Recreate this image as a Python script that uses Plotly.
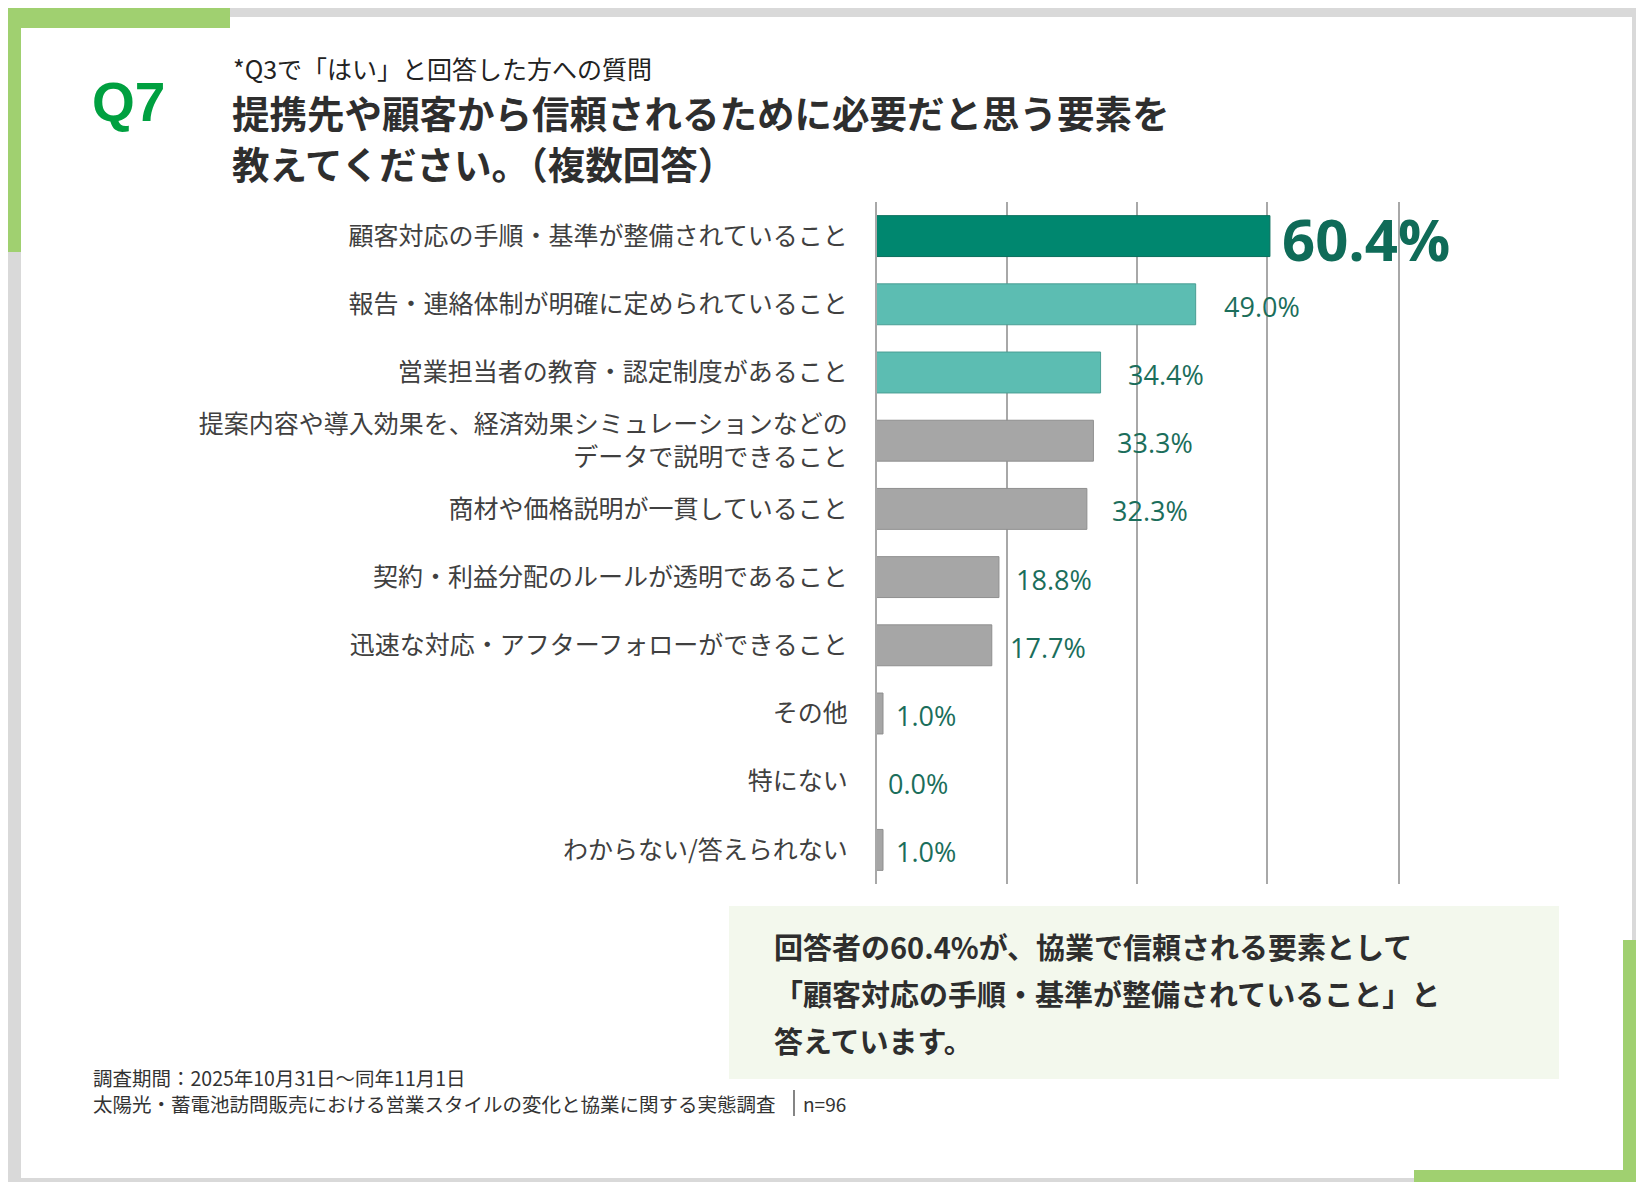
import plotly.graph_objects as go

# reference canvas; the page body adds an 8px margin, so the figure is drawn 8px in
W, H = 1644, 1190
OFF = 8
FW, FH = W - 2 * OFF, H - 2 * OFF

# chart data (top to bottom)
CATEGORIES = [
    "顧客対応の手順・基準が整備されていること",
    "報告・連絡体制が明確に定められていること",
    "営業担当者の教育・認定制度があること",
    "提案内容や導入効果を、経済効果シミュレーションなどの<br>データで説明できること",
    "商材や価格説明が一貫していること",
    "契約・利益分配のルールが透明であること",
    "迅速な対応・アフターフォローができること",
    "その他",
    "特にない",
    "わからない/答えられない",
]
VALUES = [60.4, 49.0, 34.4, 33.3, 32.3, 18.8, 17.7, 1.0, 0.0, 1.0]
VALUE_LABELS = ["60.4%", "49.0%", "34.4%", "33.3%", "32.3%", "18.8%", "17.7%", "1.0%", "0.0%", "1.0%"]
X_TICKS = [0, 20, 40, 60, 80]

QUESTION_NO = "Q7"
SUBTITLE = "*Q3で「はい」と回答した方への質問"
TITLE_LINES = ["提携先や顧客から信頼されるために必要だと思う要素を", "教えてください。（複数回答）"]
CALLOUT_LINES = [
    "回答者の60.4%が、協業で信頼される要素として",
    "「顧客対応の手順・基準が整備されていること」と",
    "答えています。",
]
FOOTER_PERIOD = "調査期間：2025年10月31日～同年11月1日"
FOOTER_SURVEY = "太陽光・蓄電池訪問販売における営業スタイルの変化と協業に関する実態調査"
FOOTER_N = "n=96"

JP = "Noto Sans CJK JP"
GREEN = "#a0d070"
GRAY_BG = "#d9d9d9"
TEXT_DARK = "#2e2e2e"
VALUE_COLOR = "#1b6e5b"
GRID = "#a8a8a8"


def px(x):
    return (x - OFF) / FW


def py(y):
    return 1 - (y - OFF) / FH


bar_colors = ["#00876f", "#5cbdb2", "#5cbdb2"] + ["#a6a6a6"] * 7
bar_lines = ["#0a6f5d", "#4a9e94", "#4a9e94"] + ["#8f8f8f"] * 7
label_shift = [10, 26, 25, 22, 23, 15, 16, 11, 9, 11]

fig = go.Figure()

fig.add_trace(go.Bar(
    x=VALUES,
    y=CATEGORIES,
    orientation="h",
    width=0.6,
    marker=dict(color=bar_colors, line=dict(color=bar_lines, width=1)),
    hoverinfo="skip",
    showlegend=False,
))

annotations = []

# value labels next to bars
for i, (cat, val, lab) in enumerate(zip(CATEGORIES, VALUES, VALUE_LABELS)):
    big = i == 0
    annotations.append(dict(
        x=val, y=cat, xref="x", yref="y",
        text=lab, showarrow=False,
        xanchor="left", yanchor="middle",
        xshift=label_shift[i], yshift=-2,
        font=dict(family="Open Sans", size=58 if big else 27,
                  color="#0f6b58" if big else VALUE_COLOR,
                  weight=700 if big else 400),
    ))

# headings
annotations.append(dict(
    x=px(90), y=py(102), xref="paper", yref="paper",
    text=QUESTION_NO, showarrow=False, xanchor="left", yanchor="middle",
    font=dict(family="Liberation Sans", size=55, color="#00a040", weight=700),
))
annotations.append(dict(
    x=px(231), y=py(68), xref="paper", yref="paper",
    text=SUBTITLE, showarrow=False, xanchor="left", yanchor="middle",
    font=dict(family=JP, size=25, color="#222222"),
))
for yy, line in zip([111, 162], TITLE_LINES):
    annotations.append(dict(
        x=px(230), y=py(yy), xref="paper", yref="paper",
        text=line, showarrow=False, xanchor="left", yanchor="middle",
        font=dict(family=JP, size=37.5, color=TEXT_DARK, weight=700),
    ))

# callout box text
for yy, line in zip([946, 993, 1040], CALLOUT_LINES):
    annotations.append(dict(
        x=px(772), y=py(yy), xref="paper", yref="paper",
        text=line, showarrow=False, xanchor="left", yanchor="middle",
        font=dict(family=JP, size=29, color=TEXT_DARK, weight=700),
    ))

# footer
annotations.append(dict(
    x=px(91), y=py(1077), xref="paper", yref="paper",
    text=FOOTER_PERIOD, showarrow=False, xanchor="left", yanchor="middle",
    font=dict(family=JP, size=19.5, color="#333333"),
))
annotations.append(dict(
    x=px(91), y=py(1103), xref="paper", yref="paper",
    text=FOOTER_SURVEY, showarrow=False, xanchor="left", yanchor="middle",
    font=dict(family=JP, size=19.5, color="#333333"),
))
annotations.append(dict(
    x=px(801), y=py(1103), xref="paper", yref="paper",
    text=FOOTER_N, showarrow=False, xanchor="left", yanchor="middle",
    font=dict(family=JP, size=19, color="#333333"),
))

shapes = [
    # white page
    dict(type="rect", xref="paper", yref="paper", x0=px(21), x1=px(1632), y0=py(1178), y1=py(17),
         fillcolor="white", line=dict(width=0), layer="below"),
    # top-left green corner
    dict(type="rect", xref="paper", yref="paper", x0=px(0), x1=px(230), y0=py(28), y1=py(0),
         fillcolor=GREEN, line=dict(width=0), layer="below"),
    dict(type="rect", xref="paper", yref="paper", x0=px(0), x1=px(21), y0=py(252), y1=py(0),
         fillcolor=GREEN, line=dict(width=0), layer="below"),
    # bottom-right green corner
    dict(type="rect", xref="paper", yref="paper", x0=px(1623), x1=px(W), y0=py(H), y1=py(940),
         fillcolor=GREEN, line=dict(width=0), layer="below"),
    dict(type="rect", xref="paper", yref="paper", x0=px(1414), x1=px(W), y0=py(H), y1=py(1170),
         fillcolor=GREEN, line=dict(width=0), layer="below"),
    # callout box
    dict(type="rect", xref="paper", yref="paper", x0=px(729), x1=px(1559), y0=py(1079), y1=py(906),
         fillcolor="#f3f8ed", line=dict(width=0), layer="below"),
    # footer separator
    dict(type="line", xref="paper", yref="paper", x0=px(794), x1=px(794), y0=py(1116), y1=py(1090),
         line=dict(color="#333333", width=1.2)),
]

fig.update_layout(
    width=FW, height=FH,
    margin=dict(l=0, r=0, t=0, b=0),
    paper_bgcolor=GRAY_BG,
    plot_bgcolor="rgba(0,0,0,0)",
    shapes=shapes,
    annotations=annotations,
    xaxis=dict(
        domain=[px(876.5), px(1397.6)],
        range=[0, 80], tickvals=X_TICKS, showticklabels=False,
        showgrid=True, gridcolor=GRID, gridwidth=1.5,
        zeroline=False, showline=False, fixedrange=True,
    ),
    yaxis=dict(
        domain=[py(884), py(202)],
        categoryorder="array", categoryarray=CATEGORIES,
        range=[len(CATEGORIES) - 0.5, -0.5],
        showgrid=False, zeroline=False,
        showline=True, mirror=True, linecolor=GRID, linewidth=1.5,
        ticks="", ticklabelstandoff=22,
        tickfont=dict(family=JP, size=25, color="#404040"),
    ),
)

fig.write_html("out.html")
